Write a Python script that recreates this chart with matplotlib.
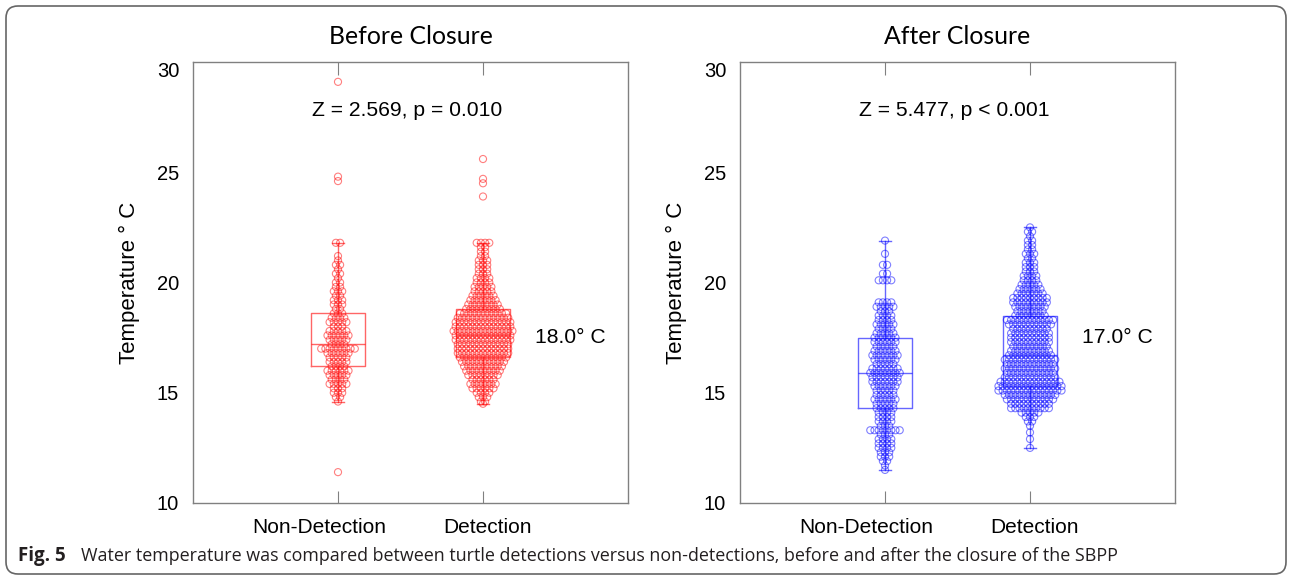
import numpy as np
import matplotlib
matplotlib.use("Agg")
import matplotlib.pyplot as plt
from matplotlib.patches import FancyBboxPatch
from matplotlib.transforms import IdentityTransform

# ---- data: temperature rows (deg C) and number of dots per row
categories = ["Non-Detection", "Detection"]

before_nd_temp = [29.1, 24.8, 24.6, 21.8, 21.2, 21.0, 20.8, 20.6, 20.4, 20.2, 20.0, 19.8, 19.6,
                  19.4, 19.2, 19.0, 18.8, 18.6, 18.4, 18.2, 18.0, 17.8, 17.6, 17.4, 17.2, 17.0,
                  16.8, 16.6, 16.4, 16.2, 16.0, 15.8, 15.6, 15.4, 15.2, 15.0, 14.8, 14.6, 11.4]
before_nd_count = [1, 1, 1, 2, 1, 1, 2, 1, 2, 1, 2, 2, 3,
                   2, 3, 3, 2, 3, 4, 5, 3, 5, 6, 5, 4, 9,
                   6, 5, 5, 4, 6, 5, 4, 5, 3, 3, 2, 1, 1]

before_d_temp = [25.6, 24.7, 24.5, 23.9, 21.8, 21.6, 21.4, 21.2, 21.0, 20.8, 20.6, 20.4, 20.2,
                 20.0, 19.8, 19.6, 19.4, 19.2, 19.0, 18.8, 18.6, 18.4, 18.2, 18.0, 17.8, 17.6,
                 17.4, 17.2, 17.0, 16.8, 16.6, 16.4, 16.2, 16.0, 15.8, 15.6, 15.4, 15.2, 15.0,
                 14.8, 14.6, 14.5]
before_d_count = [1, 1, 1, 1, 4, 2, 2, 2, 3, 3, 3, 3, 4,
                  4, 5, 5, 6, 7, 8, 9, 12, 13, 14, 14, 15, 14,
                  14, 13, 13, 13, 12, 11, 10, 9, 8, 6, 7, 6, 4,
                  3, 2, 1]

after_nd_temp = [21.9, 21.3, 20.8, 20.4, 20.1, 19.1, 18.9, 18.7, 18.5, 18.3, 18.1, 17.9, 17.7,
                 17.5, 17.3, 17.1, 16.9, 16.7, 16.5, 16.3, 16.1, 15.9, 15.7, 15.5, 15.3, 15.1,
                 14.9, 14.7, 14.5, 14.3, 14.1, 13.9, 13.7, 13.5, 13.3, 13.1, 12.9, 12.7, 12.5,
                 12.3, 12.1, 11.9, 11.7, 11.5]
after_nd_count = [1, 1, 2, 2, 4, 4, 5, 3, 4, 4, 5, 4, 5,
                  6, 6, 5, 6, 7, 6, 5, 7, 8, 7, 7, 6, 5,
                  5, 6, 5, 5, 4, 4, 4, 3, 8, 3, 4, 4, 4,
                  3, 3, 2, 1, 1]

after_d_temp = [22.5, 22.3, 22.1, 21.9, 21.7, 21.5, 21.3, 21.1, 20.9, 20.7, 20.5, 20.3, 20.1,
                19.9, 19.7, 19.5, 19.3, 19.1, 18.9, 18.7, 18.5, 18.3, 18.1, 17.9, 17.7, 17.5,
                17.3, 17.1, 16.9, 16.7, 16.5, 16.3, 16.1, 15.9, 15.7, 15.5, 15.3, 15.1, 14.9,
                14.7, 14.5, 14.3, 14.1, 13.9, 13.7, 13.5, 13.2, 12.9, 12.5]
after_d_count = [1, 2, 1, 2, 2, 2, 3, 2, 3, 3, 3, 4, 4,
                 5, 6, 7, 9, 9, 8, 7, 8, 12, 11, 9, 10, 10,
                 10, 9, 10, 11, 13, 12, 13, 12, 13, 15, 16, 16, 13,
                 12, 10, 10, 5, 3, 2, 1, 1, 1, 1]

titles = ["Before Closure", "After Closure"]
stats_text = ["Z = 2.569, p = 0.010", "Z = 5.477, p < 0.001"]
threshold_text = ["18.0° C", "17.0° C"]
yticks = [10, 15, 20, 25, 30]
caption = "Water temperature was compared between turtle detections versus non-detections, before and after the closure of the SBPP"

panels = [
    [(before_nd_temp, before_nd_count), (before_d_temp, before_d_count)],
    [(after_nd_temp, after_nd_count), (after_d_temp, after_d_count)],
]
colors = ["#ff0000", "#0000ff"]
label_shift = [-0.13, 0.03]  # category labels are not quite centred under the ticks

fig = plt.figure(figsize=(12.92, 5.76), dpi=100)
axes_left = [193 / 1292, 740 / 1292]
dx = 0.029  # horizontal gap between dots in a row

for k in range(2):
    ax = fig.add_axes([axes_left[k], 1 - 503 / 576, 435 / 1292, 441 / 576])
    c = colors[k]
    data = []
    for i, (temps, counts) in enumerate(panels[k]):
        pos = i + 1
        xs, ys = [], []
        for t, n in zip(temps, counts):
            off = (np.arange(n) - (n - 1) / 2) * dx
            xs.extend(pos + off)
            ys.extend([t] * n)
        ax.scatter(xs, ys, s=26, facecolors="none", edgecolors=matplotlib.colors.to_rgba(c, 0.5),
                   linewidths=0.8, zorder=2)
        data.append(np.repeat(temps, counts))
    line = dict(color=matplotlib.colors.to_rgba(c, 0.6), lw=1)
    ax.boxplot(data, positions=[1, 2], widths=0.37, whis=1.5, showfliers=False,
               boxprops=line, medianprops=line, whiskerprops=line, capprops=line,
               capwidths=0.08, zorder=3)

    ax.set_xlim(0, 3)
    ax.set_ylim(10, 30)
    ax.set_xticks([1, 2])
    ax.set_xticklabels([])
    for i, name in enumerate(categories):
        ax.text(i + 1 + label_shift[i], -0.055, name, transform=ax.get_xaxis_transform(),
                fontsize=15, family="Liberation Sans", ha="center", va="center")
    ax.set_yticks(yticks)
    ax.set_yticklabels([str(v) for v in yticks], fontsize=14.5, family="Liberation Sans")
    ax.get_yticklabels()[-1].set_va("top")
    ax.tick_params(axis="x", direction="in", length=9, color="#808080", top=True)
    ax.tick_params(axis="y", length=0, pad=10)
    for s in ax.spines.values():
        s.set_color("#808080")
        s.set_linewidth(1)
    ax.set_ylabel("Temperature ° C", fontsize=16, family="Liberation Sans", labelpad=12)
    ax.set_title(titles[k], fontsize=17.8, family="Lato", pad=13)
    ax.text(1.48, 27.8, stats_text[k], fontsize=15.2, family="Liberation Sans",
            ha="center", va="center")
    ax.text(2.6, 17.5, threshold_text[k], fontsize=15.2, family="Liberation Sans",
            ha="center", va="center")

fig.text(18 / 1292, 1 - 556 / 576, "Fig. 5", fontsize=13.5, family="Open Sans",
         weight="bold", va="center", color="#231f20")
fig.text(81 / 1292, 1 - 556 / 576, caption, fontsize=12.9, family="Open Sans",
         va="center", color="#231f20")

border = FancyBboxPatch((6, 2), 1280, 568, boxstyle="round,pad=0,rounding_size=12",
                        transform=IdentityTransform(), fill=False, ec="#666666", lw=1.2)
fig.patches.append(border)

fig.savefig("out.png", dpi=100)
